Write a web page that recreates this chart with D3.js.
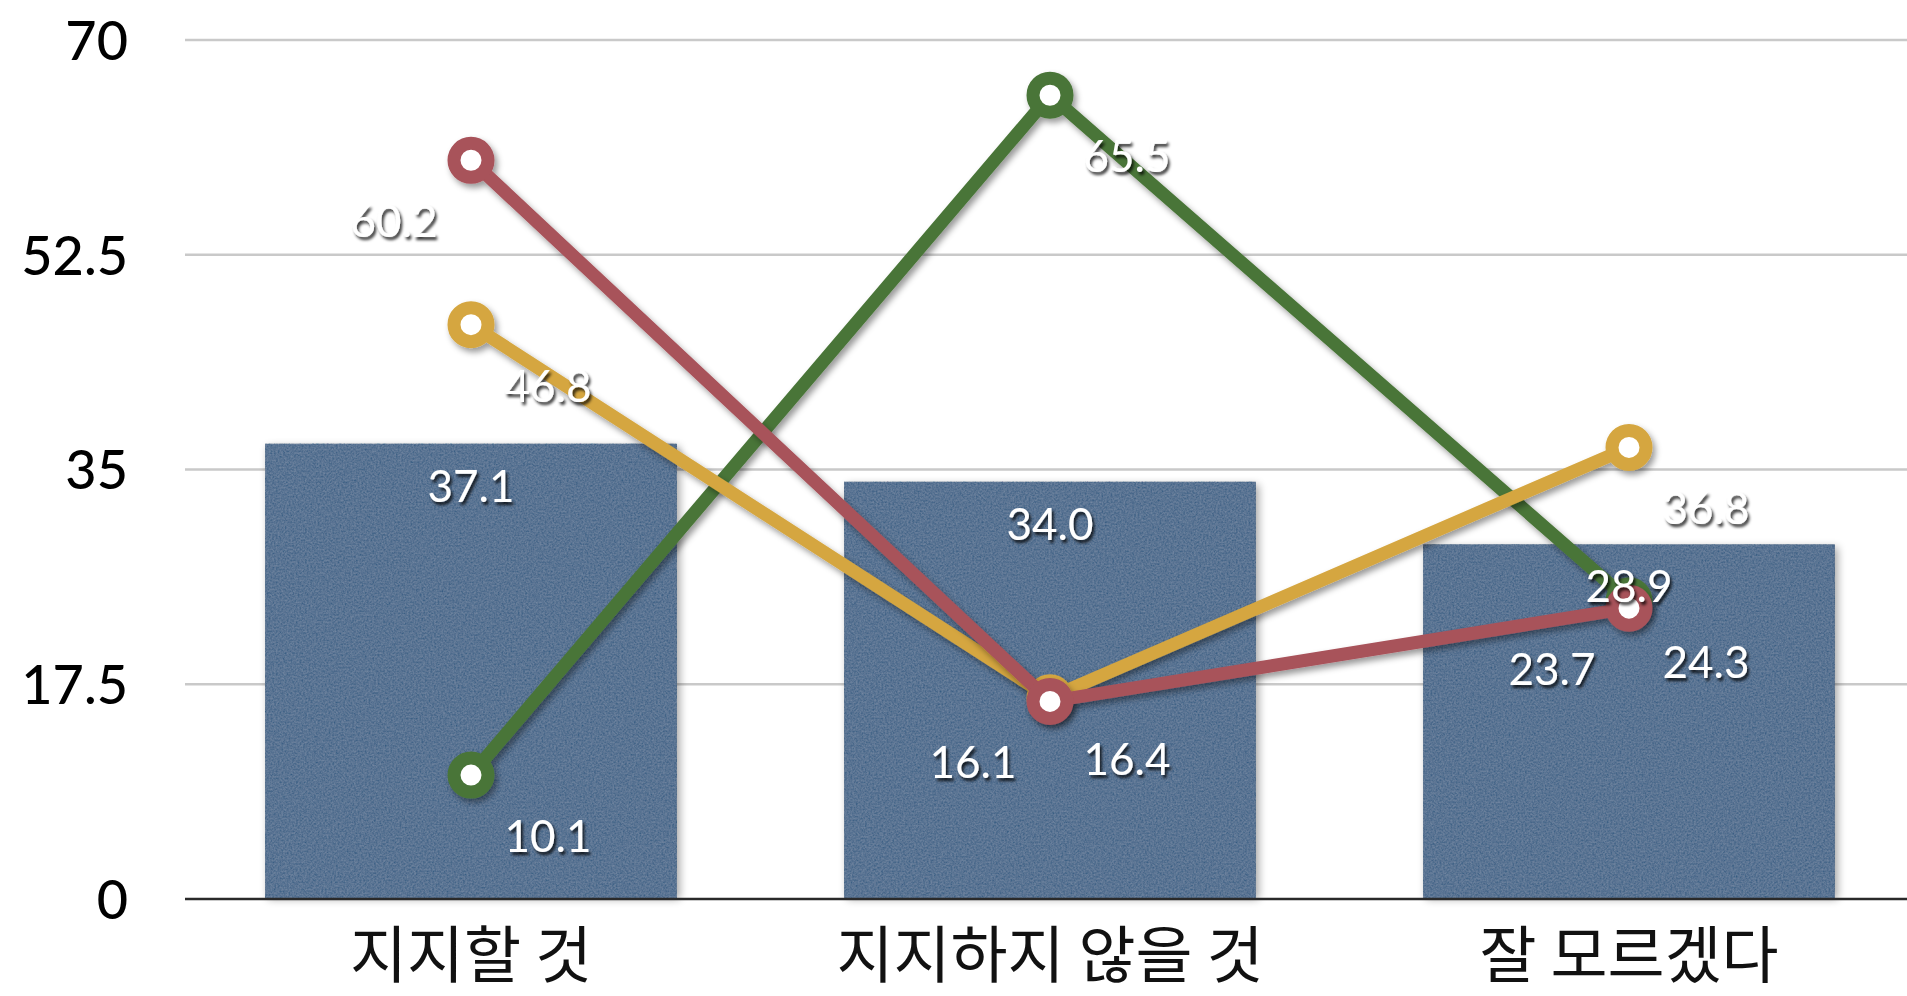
<!DOCTYPE html>
<html>
<head>
<meta charset="utf-8">
<script src="https://cdn.jsdelivr.net/npm/d3@7/dist/d3.min.js"></script>
<style>
  html, body { margin: 0; padding: 0; background: #ffffff; overflow: hidden; }
  svg { display: block; }
</style>
</head>
<body>
<svg id="chart" width="1907" height="996"></svg>
<script>
// ---- data ----
const categories = ["지지할 것", "지지하지 않을 것", "잘 모르겠다"];
const barValues = [37.1, 34.0, 28.9];
const redValues = [60.2, 16.1, 23.7];
const yellowValues = [46.8, 16.4, 36.8];
const greenValues = [10.1, 65.5, 24.3];
const yTicks = [0, 17.5, 35, 52.5, 70];
const yTickLabels = ["0", "17.5", "35", "52.5", "70"];

// series built from the arrays (draw order: green, yellow, red)
const series = [
  { name: "green", values: greenValues, color: "#497538", side: 1 },
  { name: "yellow", values: yellowValues, color: "#d5a640", side: 1 },
  { name: "red", values: redValues, color: "#a8525a", side: -1 }
];

const W = 1907, H = 996;
const svg = d3.select("#chart");

const x = d3.scaleBand().domain(categories).range([181.5, 1918.5]).paddingInner(0.289).paddingOuter(0.1445);
const y = d3.scaleLinear().domain([0, 70]).range([899, 40]);

const defs = svg.append("defs");
// bar texture
const tex = defs.append("filter").attr("id", "tex").attr("x", 0).attr("y", 0).attr("width", 1).attr("height", 1);
tex.append("feTurbulence").attr("type", "fractalNoise").attr("baseFrequency", 0.55).attr("numOctaves", 3).attr("seed", 5).attr("result", "noise");
tex.append("feColorMatrix").attr("in", "noise").attr("type", "matrix")
  .attr("values", "1 0 0 0 0  1 0 0 0 0  1 0 0 0 0  0 0 0 0 1").attr("result", "gray");
tex.append("feComposite").attr("in", "SourceGraphic").attr("in2", "gray").attr("operator", "arithmetic")
  .attr("k1", 0).attr("k2", 1).attr("k3", 0.16).attr("k4", -0.08);

// bar shadow
const bs = defs.append("filter").attr("id", "barShadow").attr("x", "-10%").attr("y", "-10%").attr("width", "120%").attr("height", "120%");
bs.append("feGaussianBlur").attr("stdDeviation", 4);

// line shadow
const ls = defs.append("filter").attr("id", "lineShadow").attr("x", "-20%").attr("y", "-20%").attr("width", "140%").attr("height", "140%");
ls.append("feDropShadow").attr("dx", 3).attr("dy", 4).attr("stdDeviation", 3).attr("flood-color", "#000").attr("flood-opacity", 0.4);

// text shadow
const ts = defs.append("filter").attr("id", "textShadow").attr("x", "-20%").attr("y", "-30%").attr("width", "150%").attr("height", "170%");
ts.append("feDropShadow").attr("dx", 2).attr("dy", 3).attr("stdDeviation", 1.6).attr("flood-color", "#000").attr("flood-opacity", 0.8);

// ---- gridlines ----
const gridG = svg.append("g");
gridG.selectAll("line.grid").data(yTicks.filter(t => t > 0)).join("line")
  .attr("class", "grid")
  .attr("x1", 185).attr("x2", W)
  .attr("y1", d => y(d)).attr("y2", d => y(d))
  .attr("stroke", "#c9c9c9").attr("stroke-width", 2.5);

// y labels via axis
const yAxis = d3.axisLeft(y).tickValues(yTicks).tickFormat((d, i) => yTickLabels[i]).tickSize(0).tickPadding(0);
const yAxisG = svg.append("g").attr("transform", "translate(128,0)").call(yAxis);
yAxisG.select(".domain").remove();
yAxisG.selectAll("text")
  .attr("font-family", "Lato, 'Open Sans', sans-serif")
  .attr("font-size", 54).attr("font-weight", 500).attr("fill", "#000").attr("dy", "0.36em");

// ---- bars ----
svg.append("g").selectAll("rect").data(barValues).join("rect")
  .attr("x", (d, i) => x(categories[i]) + 3).attr("y", d => y(d) + 3)
  .attr("width", x.bandwidth()).attr("height", d => y(0) - y(d) - 3)
  .attr("fill", "#000").attr("opacity", 0.35).attr("filter", "url(#barShadow)");
svg.append("g").selectAll("rect").data(barValues).join("rect")
  .attr("x", (d, i) => x(categories[i])).attr("y", d => y(d))
  .attr("width", x.bandwidth()).attr("height", d => y(0) - y(d))
  .attr("fill", "#5a7493").attr("filter", "url(#tex)");

// baseline
svg.append("line").attr("x1", 185).attr("x2", W).attr("y1", y(0)).attr("y2", y(0))
  .attr("stroke", "#2a2a2a").attr("stroke-width", 2.5);

// ---- x labels via axis ----
const xAxis = d3.axisBottom(x).tickSize(0).tickPadding(0);
const xAxisG = svg.append("g").attr("transform", "translate(0,978)").call(xAxis);
xAxisG.select(".domain").remove();
xAxisG.selectAll("text")
  .attr("font-family", "'Noto Sans CJK KR', sans-serif")
  .attr("font-size", 62).attr("fill", "#111").attr("dy", 0).attr("y", 0);

// ---- lines ----
const cx = i => x(categories[i]) + x.bandwidth() / 2;
const line = d3.line().x((d, i) => cx(i)).y(d => y(d));

series.forEach(s => {
  const g = svg.append("g").attr("filter", "url(#lineShadow)");
  g.append("path").datum(s.values).attr("d", line)
    .attr("fill", "none").attr("stroke", s.color).attr("stroke-width", 13)
    .attr("stroke-linejoin", "round");
  g.selectAll("circle").data(s.values).join("circle")
    .attr("cx", (d, i) => cx(i)).attr("cy", d => y(d)).attr("r", 17)
    .attr("fill", "#fff").attr("stroke", s.color).attr("stroke-width", 13);
});

// bar value labels (drawn on top of lines)
svg.append("g").selectAll("text").data(barValues).join("text")
  .attr("x", (d, i) => x(categories[i]) + x.bandwidth() / 2)
  .attr("y", d => y(d) + 42)
  .attr("dy", "0.36em")
  .attr("text-anchor", "middle")
  .attr("font-family", "Lato, 'Open Sans', sans-serif")
  .attr("font-size", 44).attr("fill", "#fff")
  .attr("filter", "url(#textShadow)")
  .text(d => d.toFixed(1));

// line value labels
series.forEach(s => {
  svg.append("g").selectAll("text").data(s.values).join("text")
    .attr("x", (d, i) => cx(i) + s.side * 77)
    .attr("y", d => y(d) + 61)
    .attr("dy", "0.36em")
    .attr("text-anchor", "middle")
    .attr("font-family", "Lato, 'Open Sans', sans-serif")
    .attr("font-size", 44).attr("fill", "#fff")
    .attr("filter", "url(#textShadow)")
    .text(d => d.toFixed(1));
});
</script>
</body>
</html>
